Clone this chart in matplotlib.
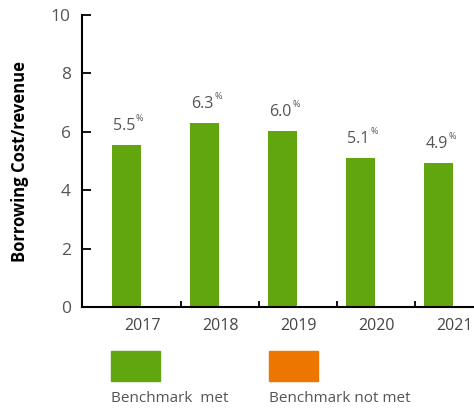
import matplotlib.pyplot as plt
from matplotlib.patches import Rectangle

# data
years = ['2017', '2018', '2019', '2020', '2021']
values = [5.55, 6.3, 6.03, 5.1, 4.93]
value_labels = ['5.5', '6.3', '6.0', '5.1', '4.9']
legend_labels = ['Benchmark  met', 'Benchmark not met']
legend_colors = ['#62A60F', '#EC7600']
y_ticks = [0, 2, 4, 6, 8, 10]

plt.rcParams['font.family'] = ['Open Sans', 'DejaVu Sans']
grey = '#555555'

fig = plt.figure(figsize=(4.74, 4.08), dpi=100)
ax = fig.add_axes([82 / 474, 101 / 408, 392 / 474, 292 / 408])

x = list(range(len(years)))
ax.bar(x, values, width=0.37, color=legend_colors[0], zorder=2)

ax.set_xlim(-0.57, 4.455)
ax.set_ylim(0, 10)
ax.set_yticks(y_ticks)
ax.tick_params(axis='y', direction='in', length=6.5, width=1.3, labelsize=12.5,
               labelcolor=grey, pad=8)

# year labels sit off-centre, tick marks fall between them
ax.set_xticks([i + 0.2 for i in x])
ax.set_xticklabels(years)
ax.tick_params(axis='x', which='major', length=0, labelsize=11.5, labelcolor='#444444', pad=8)
ax.set_xticks([i + 0.7 for i in x[:-1]], minor=True)
ax.tick_params(axis='x', which='minor', direction='in', length=4, width=1.3)

for s in ['top', 'right']:
    ax.spines[s].set_visible(False)
for s in ['left', 'bottom']:
    ax.spines[s].set_linewidth(1.5)

ax.set_ylabel('Borrowing Cost/revenue', fontsize=12, fontweight='bold', labelpad=16)

# value labels with a small raised percent sign
labels = []
for xi, v, lab in zip(x, values, value_labels):
    t = ax.annotate(lab, xy=(xi - 0.17, v), xytext=(0, 8), textcoords='offset points',
                    ha='left', va='bottom', fontsize=11.5, color=grey)
    labels.append(t)
fig.canvas.draw()
for t, xi, v in zip(labels, x, values):
    w = t.get_window_extent().width * 72 / fig.dpi
    ax.annotate('%', xy=(xi - 0.17, v), xytext=(w + 0.3, 22.5), textcoords='offset points',
                ha='left', va='top', fontsize=6.5, color=grey)

# legend drawn by hand
for i, (lab, col) in enumerate(zip(legend_labels, legend_colors)):
    x0 = (111 + i * 158) / 474
    fig.patches.append(Rectangle((x0, 27 / 408), 49 / 474, 30 / 408,
                                 transform=fig.transFigure, color=col))
    fig.text(x0, 10 / 408, lab, fontsize=11, color=grey, ha='left', va='center')

fig.savefig('out.png', dpi=100)
